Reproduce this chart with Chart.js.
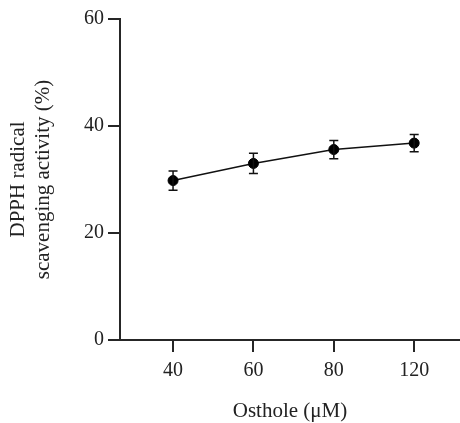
<!DOCTYPE html>
<html>
<head>
<meta charset="utf-8">
<script src="https://cdn.jsdelivr.net/npm/chart.js@4.4.0/dist/chart.umd.min.js"></script>
<style>
    body { margin: 0; background: #fff; }
    canvas { display: block; }
</style>
</head>
<body>
<canvas id="dpphChart" width="460" height="423"></canvas>
<script>
const doseLabels = ['40', '60', '80', '120'];
const activityMean = [29.8, 33.0, 35.6, 36.8];
const activityErr = [1.8, 1.9, 1.7, 1.6];
const yTicks = [0, 20, 40, 60];

const axisColor = '#262626';

// draws the vertical error bars with caps from the data above
const errorBars = {
    id: 'errorBars',
    afterDatasetsDraw(chart) {
        const ctx = chart.ctx;
        const xs = chart.scales.x;
        const ys = chart.scales.y;
        ctx.save();
        ctx.strokeStyle = '#111';
        ctx.lineWidth = 1.5;
        activityMean.forEach((m, i) => {
            const px = xs.getPixelForValue(i);
            const top = ys.getPixelForValue(m + activityErr[i]);
            const bot = ys.getPixelForValue(m - activityErr[i]);
            ctx.beginPath();
            ctx.moveTo(px, top);
            ctx.lineTo(px, bot);
            ctx.moveTo(px - 4.5, top);
            ctx.lineTo(px + 4.5, top);
            ctx.moveTo(px - 4.5, bot);
            ctx.lineTo(px + 4.5, bot);
            ctx.stroke();
        });
        ctx.restore();
    }
};

const ctx = document.getElementById('dpphChart').getContext('2d');
new Chart(ctx, {
    type: 'line',
    data: {
        datasets: [{
            data: activityMean.map((v, i) => ({ x: i, y: v })),
            borderColor: '#111',
            borderWidth: 1.5,
            backgroundColor: '#000',
            pointBackgroundColor: '#000',
            pointBorderColor: '#000',
            pointRadius: 5,
            pointBorderWidth: 1,
            tension: 0
        }]
    },
    options: {
        responsive: false,
        animation: false,
        layout: { autoPadding: false, padding: { top: 19, right: 0, left: 0, bottom: 0 } },
        plugins: {
            legend: { display: false },
            tooltip: { enabled: false }
        },
        scales: {
            x: {
                type: 'linear',
                min: -0.66,
                max: 3.57,
                afterBuildTicks: scale => {
                    scale.ticks = doseLabels.map((l, i) => ({ value: i }));
                },
                afterFit: scale => {
                    scale.height = 83;
                    scale.paddingLeft = 0;
                    scale.paddingRight = 0;
                },
                ticks: {
                    callback: v => doseLabels[v],
                    font: { family: 'Liberation Serif', size: 20 },
                    color: '#222',
                    padding: 7,
                    maxRotation: 0
                },
                grid: {
                    drawOnChartArea: false,
                    drawTicks: true,
                    tickLength: 12,
                    color: axisColor,
                    lineWidth: 2
                },
                border: { color: axisColor, width: 2 },
                title: {
                    display: true,
                    text: 'Osthole (μM)',
                    font: { family: 'Liberation Serif', size: 21 },
                    color: '#222',
                    padding: { top: 0, bottom: -1 }
                }
            },
            y: {
                min: 0,
                max: 60,
                afterBuildTicks: scale => {
                    scale.ticks = yTicks.map(v => ({ value: v }));
                },
                afterFit: scale => { scale.width = 120; },
                ticks: {
                    font: { family: 'Liberation Serif', size: 20 },
                    color: '#222',
                    padding: 4
                },
                grid: {
                    drawOnChartArea: false,
                    drawTicks: true,
                    tickLength: 12,
                    color: axisColor,
                    lineWidth: 2
                },
                border: { color: axisColor, width: 2 },
                title: {
                    display: true,
                    text: ['DPPH radical', 'scavenging activity (%)'],
                    font: { family: 'Liberation Serif', size: 21 },
                    color: '#222',
                    padding: { top: 6, bottom: 0 }
                }
            }
        }
    },
    plugins: [errorBars]
});
</script>
</body>
</html>
